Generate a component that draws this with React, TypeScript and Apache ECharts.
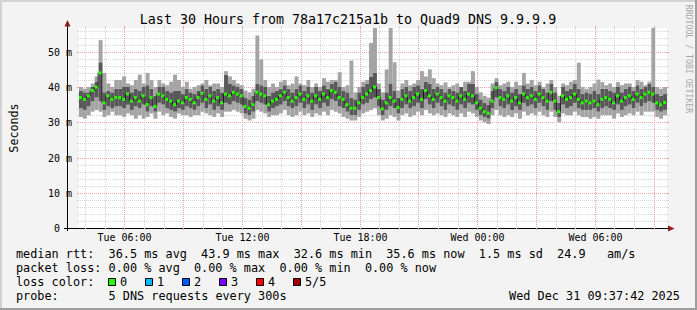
import React, { useEffect, useRef } from "react";
import * as echarts from "echarts";

// ---------- data ----------
// time axis in hours counted from Tue 00:00
const START_HOUR = 3.68;
const END_HOUR = 33.68;
const SAMPLE_HOURS = 0.2; // 12 minute samples
const Y_MAX = 56.74; // ms

const pingMedian = [
  37, 36.5, 37.5, 39, 40, 44, 35.5, 37.5, 36.5, 37, 37, 36.5, 38, 36, 37, 36, 37.5, 35, 37, 34.5,
  38, 37.5, 36.5, 36, 35, 36, 35.5, 37, 36.5, 35.5, 37, 38.2, 36.5, 37.5, 36, 37, 35.5, 38, 37.5, 38.5,
  38, 37.5, 34.5, 34, 35, 38.5, 38, 37.5, 35, 36, 36.5, 37.5, 38.5, 37, 36, 37, 38, 36.5, 37.5, 36,
  37.5, 36.5, 38, 37, 39, 38.5, 37, 36.5, 35, 34, 34, 35.5, 37, 38, 39, 40, 37, 33.8, 35.5, 37,
  36, 34.2, 36.5, 37.5, 36, 37, 38, 36.5, 39, 37.5, 36.5, 38, 37, 36, 37.5, 37, 36, 37.5, 36.5, 38,
  37.5, 35.5, 34, 33, 32.6, 36, 39.8, 37, 36.5, 37.5, 36, 37, 35.5, 38, 37, 37.5, 36.5, 38, 37, 36,
  38.5, 36, 33, 37.5, 36.5, 37, 38, 36.5, 35.5, 36, 35.5, 36, 35, 36.5, 37, 36.5, 35.5, 37.5, 36, 37,
  37.5, 36.5, 38, 37, 38, 38.5, 38, 35.5, 35, 35.6,
];
const pingMax = [
  40, 39.5, 40, 41, 43, 53.3, 44, 41, 40, 42, 42, 43, 41, 40.5, 42, 43.5, 41, 44, 42, 40,
  42, 41, 40.5, 41.5, 43.5, 42, 40, 41.5, 39.5, 40, 40.5, 41, 42, 40.5, 41, 41, 40, 44.5, 43, 42,
  41, 40.5, 39, 38.5, 39.5, 54.6, 47.8, 42, 40, 41, 40, 41.5, 42, 40.5, 41, 43, 41, 40.5, 42, 40,
  41, 40, 42.5, 41.5, 42, 42, 44.2, 40, 40.5, 47.5, 38.5, 40, 41.5, 42, 52.5, 62, 41, 38.5, 45, 60,
  47, 39, 41, 42, 40.5, 41, 42, 44.5, 43, 45, 42.5, 41, 40.5, 41.3, 40, 40.5, 41, 40, 41.5, 41.5,
  44.5, 40, 38.5, 37.5, 37, 41, 42.5, 40.5, 41, 41.5, 40, 41.5, 40.5, 44, 41, 42, 40.5, 41.5, 40, 41,
  42, 40, 37.5, 41, 40.5, 41.5, 42, 46.9, 40, 39.5, 40, 41, 42.1, 41.4, 40.5, 41, 40, 41.4, 40.5, 41,
  41, 40, 42, 41.5, 40.5, 41.5, 60, 40, 39.5, 40,
];
const pingMin = [
  31.5, 31, 32, 33, 33.5, 33, 31.5, 32, 33, 32, 32, 31.5, 32.5, 32, 31, 32, 31, 31.5, 32.5, 31,
  33, 32, 32.5, 31.5, 31, 32.5, 32, 32, 31.5, 32, 32, 33, 32.5, 32, 31.5, 32.5, 31.5, 33, 33, 33.5,
  33, 32.5, 31, 30.5, 31, 33.5, 33, 32.5, 31.5, 32, 32, 32.5, 33.5, 32, 31.5, 32, 33, 32, 32.5, 31.5,
  32.5, 32, 33, 32, 33.5, 33, 32.5, 31.5, 31, 30.5, 30.5, 31.5, 32.5, 33, 33.5, 34, 32, 30.5, 31, 32,
  31.5, 30.5, 32, 32.5, 31.5, 32, 33, 32, 33.5, 32.5, 32, 32.5, 32, 31.5, 32.5, 32, 31.5, 32.5, 31.5, 33,
  32.5, 31.5, 30.5, 30, 29.5, 32, 33.5, 32, 31.5, 32, 31.5, 32.5, 31, 33, 32, 32.5, 32, 33, 32, 31.5,
  33, 31.5, 30, 32.5, 32, 32, 33, 32, 31.5, 31.5, 31, 31.5, 31, 32, 32, 32, 31, 32.5, 31.5, 32,
  32.5, 32, 33, 32, 33, 33, 33, 31.5, 31, 32,
];
const pingLow = [
  34, 33.5, 34.5, 36, 37, 36, 33.5, 34.5, 34, 34.5, 34.5, 34, 35, 33.5, 34.5, 34, 35, 33, 34.5, 33,
  35.5, 35, 34, 33.5, 33, 34, 33.5, 34.5, 34, 33.5, 34.5, 35.5, 34, 35, 33.5, 34.5, 33.5, 35.5, 35, 36,
  35.5, 35, 32.5, 32, 33, 36, 35.5, 35, 33, 34, 34.5, 35, 36, 34.5, 34, 34.5, 35.5, 34, 35, 33.5,
  35, 34, 35.5, 34.5, 36.5, 36, 34.5, 34, 33, 32, 32, 33.5, 35, 35.5, 36.5, 37, 34.5, 32, 33.5, 34.5,
  34, 32.5, 34, 35, 34, 34.5, 35.5, 34, 36.5, 35, 34, 35.5, 34.5, 33.5, 35, 34.5, 33.5, 35, 34, 35.5,
  35, 33.5, 32, 31.5, 31, 34, 37, 34.5, 34, 35, 33.5, 34.5, 33.5, 35.5, 34.5, 35, 34, 35.5, 34.5, 33.5,
  36, 33.5, 31.5, 35, 34, 34.5, 35.5, 34, 33.5, 33.5, 33.5, 34, 33, 34, 34.5, 34, 33.5, 35, 33.5, 34.5,
  35, 34, 35.5, 34.5, 35.5, 36, 35.5, 33.5, 33, 33.5,
];
const pingHigh = [
  39, 38.5, 38.5, 40, 41.5, 47, 38.5, 39, 38.5, 39.5, 39.5, 40, 40, 38.5, 39.5, 39, 40, 40.5, 39.5, 37.5,
  40, 40, 39, 38.5, 39, 39, 38, 39.5, 38.5, 38, 39, 40.5, 39.5, 40, 39, 39.5, 38.5, 43.5, 41, 40.5,
  40, 39.5, 37, 36.5, 37.5, 41, 40.5, 40, 37.5, 38.5, 39, 39.5, 40.5, 39.5, 38.5, 39.5, 40.5, 39, 40, 38.5,
  40, 39, 40.5, 39.5, 41, 41.5, 40, 39, 38.5, 37, 36.5, 38.5, 40, 41, 43, 44, 39.5, 36.5, 38.5, 41,
  39, 37, 39.5, 40, 39, 40, 40.5, 39.5, 41.5, 41, 39.5, 40, 39.5, 38.5, 39.5, 39, 38.5, 40, 39, 41,
  41, 38, 36.5, 35.5, 35, 39, 41.5, 39.5, 39, 40, 38.5, 39.5, 38, 40.5, 39.5, 40, 39, 40.5, 39.5, 38.5,
  41, 38.5, 35.5, 40, 39, 39.5, 41, 39.5, 38, 38.5, 38, 39, 38, 39.5, 39.5, 39, 38.5, 40, 38.5, 39.5,
  40, 39, 40.5, 39.5, 40, 41, 40, 38, 37.5, 38,
];

const gridHours = [4, 5, 6, 7, 8, 9, 10, 11, 12, 13, 14, 15, 16, 17, 18, 19, 20, 21, 22, 23, 24, 25, 26, 27, 28, 29, 30, 31, 32, 33];
const gridValues = [2, 4, 6, 8, 10, 12, 14, 16, 18, 20, 22, 24, 26, 28, 30, 32, 34, 36, 38, 40, 42, 44, 46, 48, 50, 52, 54, 56];
const labelHours = [6, 12, 18, 24, 30];
const labelTexts = ["Tue 06:00", "Tue 12:00", "Tue 18:00", "Wed 00:00", "Wed 06:00"];
const yLabelValues = [0, 10, 20, 30, 40, 50];
const yLabelTexts = ["0", "10 m", "20 m", "30 m", "40 m", "50 m"];

const titleText = "Last 30 Hours from 78a17c215a1b to Quad9 DNS 9.9.9.9";
const rttRow = "median rtt:  36.5 ms avg  43.9 ms max  32.6 ms min  35.6 ms now  1.5 ms sd  24.9   am/s";
const lossRow = "packet loss: 0.00 % avg  0.00 % max  0.00 % min  0.00 % now";
const colorLabel = "loss color:";
const lossColorNames = ["0", "1", "2", "3", "4", "5/5"];
const lossColors = ["#26ff00", "#00b8ff", "#0059ff", "#7e00ff", "#ff0000", "#a10000"];
const probeRow = "probe:       5 DNS requests every 300s";
const dateText = "Wed Dec 31 09:37:42 2025";
const watermark = "RRDTOOL / TOBI OETIKER";

// ---------- layout / style ----------
const MONO = '"DejaVu Sans Mono", monospace';
const LEGEND_FONT = 11.83;
const CHAR_W = 7.12;
const LEGEND_X = 16;
const LIGHT_SMOKE = "#a4a4a4";
const DARK_SMOKE = "#585858";
const MINOR_GRID = "#d6d6d6";
const MAJOR_GRID = "#eda3a3";
const ARROW = "#8f1c1c";
const rowY = [254, 268.3, 282.3, 296];

function txt(text: string, x: number, y: number, size: number, extra: any = {}) {
  return {
    type: "text",
    x,
    y,
    silent: true,
    style: {
      text,
      font: `${size}px ${MONO}`,
      fill: "#000",
      textVerticalAlign: "middle",
      verticalAlign: "middle",
      ...extra,
    },
  };
}

// split a monospace legend row into runs, each placed at its column
function rowTexts(row: string, y: number) {
  const out: any[] = [];
  const re = /\S+(?: \S+)*/g;
  let m: RegExpExecArray | null;
  while ((m = re.exec(row)) !== null) {
    out.push(txt(m[0], LEGEND_X + m.index * CHAR_W, y, LEGEND_FONT));
  }
  return out;
}

export default function App() {
  const ref = useRef<HTMLDivElement>(null);
  useEffect(() => {
    if (!ref.current) return;
    const chart = echarts.init(ref.current, undefined, { renderer: "svg" });

    const smokeData = pingMedian.map((m, i) => [
      START_HOUR + i * SAMPLE_HOURS,
      pingMin[i],
      pingLow[i],
      m,
      pingHigh[i],
      pingMax[i],
      i + 1 < pingMedian.length ? pingMedian[i + 1] : m,
    ]);

    const graphic: any[] = [];
    // frame
    graphic.push({ type: "rect", silent: true, shape: { x: 0, y: 0, width: 697, height: 2 }, style: { fill: "#d2d2d2" } });
    graphic.push({ type: "rect", silent: true, shape: { x: 0, y: 0, width: 2, height: 310 }, style: { fill: "#d2d2d2" } });
    graphic.push({ type: "rect", silent: true, shape: { x: 0, y: 308, width: 697, height: 2 }, style: { fill: "#9e9e9e" } });
    graphic.push({ type: "rect", silent: true, shape: { x: 695, y: 0, width: 2, height: 310 }, style: { fill: "#9e9e9e" } });
    // axis lines and arrows
    graphic.push({ type: "line", silent: true, shape: { x1: 67.5, y1: 25, x2: 67.5, y2: 231 }, style: { stroke: "#000", lineWidth: 1 } });
    graphic.push({ type: "line", silent: true, shape: { x1: 64, y1: 228.5, x2: 669, y2: 228.5 }, style: { stroke: "#000", lineWidth: 1 } });
    graphic.push({ type: "polygon", silent: true, shape: { points: [[67.5, 20], [64.5, 26.5], [70.5, 26.5]] }, style: { fill: ARROW } });
    graphic.push({ type: "polygon", silent: true, shape: { points: [[674.5, 228.5], [668, 225.5], [668, 231.5]] }, style: { fill: ARROW } });
    // title
    graphic.push(txt(titleText, 348, 19, 13.3, { textAlign: "center", align: "center" }));
    // watermark
    graphic.push({
      type: "text",
      x: 688.5,
      y: 59,
      rotation: -Math.PI / 2,
      silent: true,
      style: {
        text: watermark,
        font: `8.2px ${MONO}`,
        fill: "#a8a8a8",
        textAlign: "center",
        align: "center",
        textVerticalAlign: "middle",
        verticalAlign: "middle",
      },
    });
    // legend rows
    rowTexts(rttRow, rowY[0]).forEach((g) => graphic.push(g));
    rowTexts(lossRow, rowY[1]).forEach((g) => graphic.push(g));
    graphic.push(txt(colorLabel, LEGEND_X, rowY[2], LEGEND_FONT));
    lossColorNames.forEach((s, i) => {
      const bx = 108.5 + i * 37;
      graphic.push({
        type: "rect",
        silent: true,
        shape: { x: bx, y: rowY[2] - 3.8, width: 7, height: 7 },
        style: { fill: lossColors[i], stroke: "#000", lineWidth: 1 },
      });
      graphic.push(txt(s, bx + 11.5, rowY[2], LEGEND_FONT));
    });
    rowTexts(probeRow, rowY[3]).forEach((g) => graphic.push(g));
    graphic.push(txt(dateText, 680, rowY[3], LEGEND_FONT, { textAlign: "right", align: "right" }));

    const option: any = {
      animation: false,
      backgroundColor: "#f3f3f3",
      textStyle: { fontFamily: MONO },
      grid: { left: 67, top: 28, width: 600, height: 200, show: true, backgroundColor: "#ffffff", borderWidth: 0 },
      xAxis: {
        type: "value",
        min: START_HOUR,
        max: END_HOUR,
        z: 5,
        axisLine: { show: false },
        axisTick: { show: false },
        axisLabel: { show: false },
        splitLine: { show: false },
      },
      yAxis: {
        type: "value",
        min: 0,
        max: Y_MAX,
        interval: 10,
        z: 5,
        name: "Seconds",
        nameLocation: "middle",
        nameGap: 59,
        nameRotate: 90,
        nameTextStyle: { fontFamily: MONO, fontSize: 11.7, color: "#000" },
        axisLine: { show: false },
        axisTick: { show: false },
        splitLine: { show: false },
        axisLabel: { show: false },
      },
      series: [
        {
          type: "custom",
          name: "hgrid",
          silent: true,
          z: 1,
          data: gridValues.map((v) => [START_HOUR, v]),
          renderItem: (params: any, api: any) => {
            const v = api.value(1);
            const p0 = api.coord([START_HOUR, v]);
            const p1 = api.coord([END_HOUR, v]);
            const y = Math.round(p0[1]) + 0.5;
            const major = v % 10 === 0;
            const c = major ? MAJOR_GRID : MINOR_GRID;
            return {
              type: "group",
              children: [
                { type: "line", shape: { x1: p0[0] + 1, y1: y, x2: p1[0], y2: y }, style: { stroke: c, lineWidth: 1, lineDash: [1, 1] } },
                { type: "line", shape: { x1: p0[0] - 2, y1: y, x2: p0[0], y2: y }, style: { stroke: c, lineWidth: 1 } },
                { type: "line", shape: { x1: p1[0], y1: y, x2: p1[0] + 2, y2: y }, style: { stroke: c, lineWidth: 1 } },
              ],
            };
          },
        },
        {
          type: "custom",
          name: "vgrid",
          silent: true,
          z: 1,
          data: gridHours.map((h) => [h, 0]),
          renderItem: (params: any, api: any) => {
            const h = api.value(0);
            const b = api.coord([h, 0]);
            const t = api.coord([h, Y_MAX]);
            const x = Math.round(b[0]) + 0.5;
            const major = h % 3 === 0;
            const c = major ? MAJOR_GRID : MINOR_GRID;
            return {
              type: "group",
              children: [
                { type: "line", shape: { x1: x, y1: t[1], x2: x, y2: b[1] }, style: { stroke: c, lineWidth: 1, lineDash: [1, 1] } },
                { type: "line", shape: { x1: x, y1: b[1], x2: x, y2: b[1] + 2 }, style: { stroke: c, lineWidth: 1 } },
                { type: "line", shape: { x1: x, y1: t[1] - 2, x2: x, y2: t[1] }, style: { stroke: c, lineWidth: 1 } },
              ],
            };
          },
        },
        {
          type: "custom",
          name: "smoke",
          silent: true,
          z: 2,
          data: smokeData,
          renderItem: (params: any, api: any) => {
            const t = api.value(0);
            const l = api.coord([t, 0]);
            const r = api.coord([t + SAMPLE_HOURS, 0]);
            const x0 = l[0];
            const w = r[0] - l[0];
            const yv = (k: number) => api.coord([t, Math.min(api.value(k), Y_MAX)])[1];
            const y1 = yv(1), y2 = yv(2), y3 = yv(3), y4 = yv(4), y5 = yv(5), yn = yv(6);
            return {
              type: "group",
              children: [
                { type: "rect", shape: { x: x0, y: y2, width: w, height: y1 - y2 }, style: { fill: LIGHT_SMOKE } },
                { type: "rect", shape: { x: x0, y: y4, width: w, height: y2 - y4 }, style: { fill: DARK_SMOKE } },
                { type: "rect", shape: { x: x0, y: y5, width: w, height: y4 - y5 }, style: { fill: LIGHT_SMOKE } },
                { type: "line", shape: { x1: x0 + w - 0.5, y1: y3, x2: x0 + w - 0.5, y2: yn }, style: { stroke: "#1a1a1a", lineWidth: 1 } },
                { type: "rect", shape: { x: x0, y: y3 - 1.5, width: w - 1, height: 3 }, style: { fill: lossColors[0] } },
              ],
            };
          },
        },
        {
          type: "custom",
          name: "xlabels",
          silent: true,
          z: 3,
          data: labelHours.map((h, i) => [h, 0, i]),
          renderItem: (params: any, api: any) => {
            const p = api.coord([api.value(0), 0]);
            return {
              type: "text",
              x: Math.round(p[0]) + 0.5,
              y: p[1] + 9.5,
              style: {
                text: labelTexts[api.value(2)],
                font: `10px ${MONO}`,
                fill: "#000",
                textAlign: "center",
                align: "center",
                textVerticalAlign: "middle",
                verticalAlign: "middle",
              },
            };
          },
        },
        {
          type: "custom",
          name: "ylabels",
          silent: true,
          z: 3,
          data: yLabelValues.map((v, i) => [START_HOUR, v, i]),
          renderItem: (params: any, api: any) => {
            const p = api.coord([START_HOUR, api.value(1)]);
            const i = api.value(2);
            const s = yLabelTexts[i];
            // "0" has no unit: keep it where the number column sits
            const right = s.indexOf(" ") < 0 ? p[0] - 7 - 12 : p[0] - 7;
            return {
              type: "text",
              x: right,
              y: Math.round(p[1]) + 0.5,
              style: {
                text: s,
                font: `10px ${MONO}`,
                fill: "#000",
                textAlign: "right",
                align: "right",
                textVerticalAlign: "middle",
                verticalAlign: "middle",
              },
            };
          },
        },
      ],
      graphic,
    };
    chart.setOption(option);
    return () => chart.dispose();
  }, []);
  return <div ref={ref} style={{ position: "fixed", left: 0, top: 0, width: 697, height: 310 }} />;
}
